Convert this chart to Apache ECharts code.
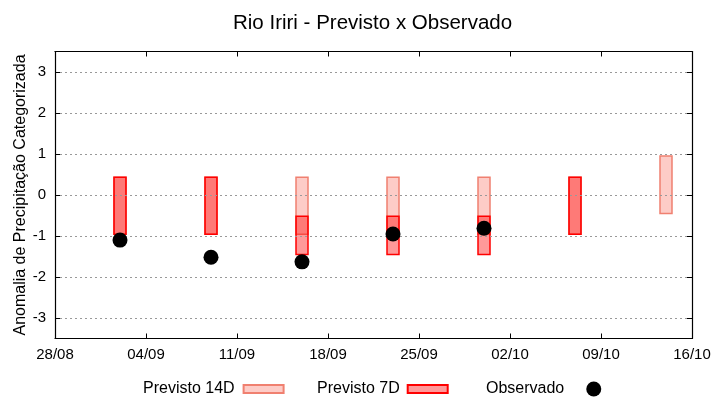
<!DOCTYPE html>
<html>
<head>
<meta charset="utf-8">
<script src="https://cdn.jsdelivr.net/npm/echarts@6/dist/echarts.min.js"></script>
<style>html,body{margin:0;padding:0;background:#fff}#c{width:720px;height:400px}</style>
</head>
<body>
<div id="c"></div>
<script>
// ---- data ----
const startDate = '28/08';
const xTickLabels = ['28/08','04/09','11/09','18/09','25/09','02/10','09/10','16/10'];
const yTicks = [-3,-2,-1,0,1,2,3];
const forecastDates = ['02/09','09/09','16/09','23/09','30/09','07/10','14/10'];
const p14Low  = [-0.96,-0.96,-0.96,-0.96,-0.96,-0.96,-0.45];
const p14High = [ 0.43, 0.43, 0.43, 0.43, 0.43, 0.43, 0.95];
const p7Low   = [-0.96,-0.96,-1.45,-1.45,-1.45,-0.96, null];
const p7High  = [ 0.43, 0.43,-0.52,-0.52,-0.52, 0.43, null];
const obsDates = ['02/09','09/09','16/09','23/09','30/09'];
const observed = [-1.10,-1.52,-1.63,-0.95,-0.81];
const yAxisTitle = 'Anomalia de Precipitação Categorizada';

function dayOffset(s){
  const [d,m] = s.split('/').map(Number);
  const [d0,m0] = startDate.split('/').map(Number);
  const t = Date.UTC(2023, m-1, d), t0 = Date.UTC(2023, m0-1, d0);
  return Math.round((t - t0)/86400000);
}
const d14 = forecastDates.map((d,i)=>[dayOffset(d), p14Low[i], p14High[i]]).filter(r=>r[1]!=null);
const d7 = forecastDates.map((d,i)=>[dayOffset(d), p7Low[i], p7High[i]]).filter(r=>r[1]!=null);
const dObs = obsDates.map((d,i)=>[dayOffset(d), observed[i]]);

const FONT = 'Liberation Sans';
const c14 = {fill:'rgba(250,128,114,0.4)', stroke:'#f08070'};
const c7 = {fill:'rgba(255,0,0,0.4)', stroke:'#ff0000'};

function rangeRender(col){
  return function(params, api){
    const x = api.value(0), lo = api.value(1), hi = api.value(2);
    const p1 = api.coord([x, hi]), p2 = api.coord([x, lo]);
    return {type:'rect', shape:{x:p1[0]-6, y:p1[1], width:12, height:p2[1]-p1[1]},
      style:{fill:col.fill, stroke:col.stroke, lineWidth:1.5}};
  };
}

const chart = echarts.init(document.getElementById('c'));
const xBase = {type:'value', min:0, max:49, interval:7,
  axisLine:{show:true, onZero:false, lineStyle:{color:'#000', width:1.2}},
  axisTick:{show:true, inside:true, length:5, lineStyle:{color:'#000'}},
  splitLine:{show:false}};
const yBase = {type:'value', min:-3.5, max:3.5, interval:1,
  axisLine:{show:true, onZero:false, lineStyle:{color:'#000', width:1.2}},
  axisTick:{show:true, inside:true, length:5, lineStyle:{color:'#000'}, customValues: yTicks},
  z:3};
const legText = {fontFamily:FONT, fontSize:16, color:'#000'};
chart.setOption({
  animation:false,
  title:{text:'Rio Iriri - Previsto x Observado', left:228, top:8,
    textStyle:{fontFamily:FONT, fontSize:20.5, fontWeight:'normal', color:'#000'}},
  grid:{left:55, right:28, top:51.5, bottom:61.5},
  graphic:[{type:'text', x:20.5, y:195, rotation:Math.PI/2,
    style:{text:yAxisTitle, fontFamily:FONT, fontSize:16, fill:'#000', align:'center', verticalAlign:'middle'}}],
  legend:[
    {data:[{name:'Previsto 14D', icon:'rect'}], left:138, top:376, align:'right', itemWidth:40, itemHeight:8,
      textStyle:Object.assign({padding:[0,4,0,0]}, legText)},
    {data:[{name:'Previsto 7D', icon:'rect'}], left:312, top:376, align:'right', itemWidth:40, itemHeight:8,
      textStyle:Object.assign({padding:[0,3,0,0]}, legText)},
    {data:[{name:'Observado', icon:'circle'}], left:481, top:376, align:'right', itemWidth:15, itemHeight:15,
      textStyle:Object.assign({padding:[0,17,0,0]}, legText)}
  ],
  xAxis:[
    Object.assign({}, xBase, {position:'bottom',
      axisLabel:{fontFamily:FONT, fontSize:15, color:'#000', margin:9,
        formatter:v=>xTickLabels[Math.round(v/7)]}}),
    Object.assign({}, xBase, {position:'top', axisLabel:{show:false}})
  ],
  yAxis:[
    Object.assign({}, yBase, {position:'left',
      axisLabel:{fontFamily:FONT, fontSize:15, color:'#000', margin:9, customValues: yTicks},
      splitLine:{show:true, lineStyle:{color:'#999', width:1, type:[2,3]}}}),
    Object.assign({}, yBase, {position:'right', axisLabel:{show:false}, splitLine:{show:false}})
  ],
  series:[
    {name:'Previsto 14D', type:'custom', renderItem:rangeRender(c14), data:d14, z:1,
      itemStyle:{color:c14.fill, borderColor:c14.stroke, borderWidth:1.5},
      encode:{x:0, y:[1,2]}},
    {name:'Previsto 7D', type:'custom', renderItem:rangeRender(c7), data:d7, z:1,
      itemStyle:{color:c7.fill, borderColor:c7.stroke, borderWidth:1.5},
      encode:{x:0, y:[1,2]}},
    {name:'Observado', type:'scatter', data:dObs, symbol:'circle', symbolSize:15, z:10,
      itemStyle:{color:'#000', opacity:1}}
  ]
});
</script>
</body>
</html>
